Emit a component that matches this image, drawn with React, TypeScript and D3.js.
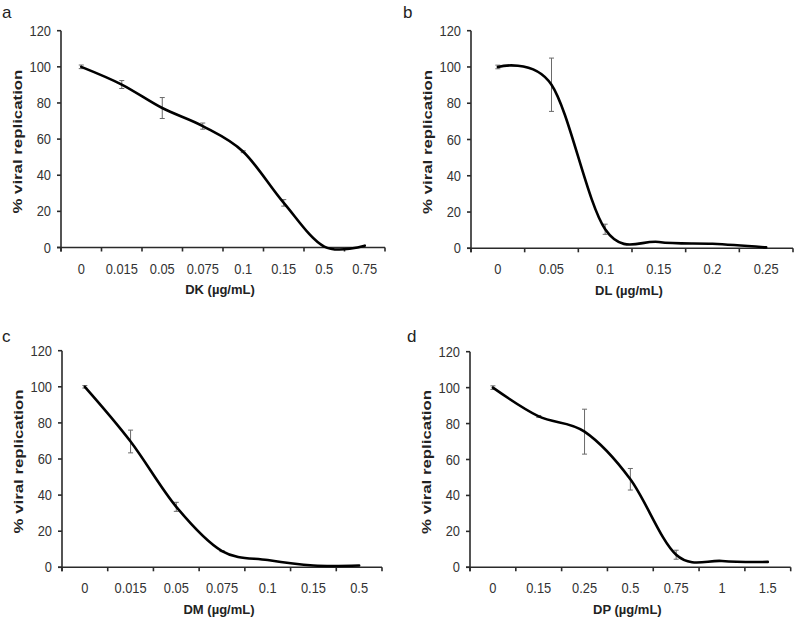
import React from "react";
import * as d3 from "d3";

const catsA = ["0", "0.015", "0.05", "0.075", "0.1", "0.15", "0.5", "0.75"];
const valsA = [100, 90.2, 77.2, 67.2, 53, 24.7, 0.5, 1];
const errA = [1, 2.2, 5.8, 1.7, 0.5, 1.8, 0, 0];

const catsB = ["0", "0.05", "0.1", "0.15", "0.2", "0.25"];
const valsB = [100, 90.2, 10.5, 3.5, 2.5, 0.5];
const errB = [1, 14.7, 2.8, 0, 0, 0];

const catsC = ["0", "0.015", "0.05", "0.075", "0.1", "0.15", "0.5"];
const valsC = [100, 69.7, 33.5, 9, 4, 1, 1];
const errC = [0.7, 6.3, 2.5, 0.3, 0, 0, 0];

const catsD = ["0", "0.15", "0.25", "0.5", "0.75", "1", "1.5"];
const valsD = [100, 84, 75.5, 49, 7, 3.5, 3];
const errD = [1, 0.5, 12.5, 6, 2.5, 0, 0];

const yTicks = [0, 20, 40, 60, 80, 100, 120];

const FONT = "'Liberation Sans', Arial, sans-serif";

type PanelProps = {
  letter: string;
  title: string;
  cats: string[];
  vals: number[];
  errs: number[];
  left: number;
  right: number;
  y0: number;
  y120: number;
  letterX: number;
  letterY: number;
};

function Label(props: { x: number; y: number; anchor: string; dy?: string; children: React.ReactNode }) {
  return (
    <text
      transform={`translate(${props.x},${props.y}) scale(0.92,1)`}
      dy={props.dy}
      textAnchor={props.anchor}
      fontSize={14}
      fontFamily={FONT}
      fill="#333"
    >
      {props.children}
    </text>
  );
}

function Panel(p: PanelProps) {
  const x = d3.scaleBand<string>().domain(p.cats).range([p.left, p.right]).padding(0);
  const y = d3.scaleLinear().domain([0, 120]).range([p.y0, p.y120]);
  const bw = x.bandwidth();
  const cx = (c: string) => (x(c) as number) + bw / 2;
  const pts: [number, number][] = p.cats.map((c, i) => [cx(c), y(p.vals[i])]);
  const line = d3.line().curve(d3.curveCardinal.tension(0))(pts) || "";
  const boundaries = p.cats.map((c) => x(c) as number).concat([p.right]);
  const axisColor = "#2a2a2a";
  return (
    <g>
      <text x={p.letterX} y={p.letterY} fontSize={17} fontFamily={FONT} fill="#222">
        {p.letter}
      </text>
      {/* y axis */}
      <line x1={p.left} x2={p.left} y1={y(120)} y2={p.y0 + 4} stroke={axisColor} strokeWidth={1.6} />
      {yTicks.map((t) => (
        <g key={t}>
          <line x1={p.left - 4} x2={p.left} y1={y(t)} y2={y(t)} stroke={axisColor} strokeWidth={1.6} />
          <Label x={p.left - 10} y={y(t)} anchor="end" dy="0.36em">
            {t}
          </Label>
        </g>
      ))}
      {/* x axis */}
      <line x1={p.left - 4} x2={p.right} y1={p.y0} y2={p.y0} stroke={axisColor} strokeWidth={1.6} />
      {boundaries.map((b, i) => (
        <line key={i} x1={b} x2={b} y1={p.y0} y2={p.y0 + 4} stroke={axisColor} strokeWidth={1.6} />
      ))}
      {p.cats.map((c) => (
        <Label key={c} x={cx(c)} y={p.y0 + 26} anchor="middle">
          {c}
        </Label>
      ))}
      <text
        x={(p.left + p.right) / 2 - 3}
        y={p.y0 + 46.5}
        textAnchor="middle"
        fontSize={13}
        fontWeight="bold"
        fontFamily={FONT}
        fill="#222"
      >
        {p.title}
      </text>
      <text
        transform={`translate(${p.left - 43},${(p.y0 + p.y120) / 2 + 2.5}) rotate(-90)`}
        textAnchor="middle"
        dy="0.35em"
        fontSize={12.5}
        fontWeight="bold"
        fontFamily={FONT}
        fill="#222"
        textLength={144}
        lengthAdjust="spacingAndGlyphs"
      >
        % viral replication
      </text>
      {/* error bars */}
      {p.cats.map((c, i) =>
        p.errs[i] > 0 ? (
          <g key={"e" + c} stroke="#6a6a6a" strokeWidth={1}>
            <line x1={cx(c)} x2={cx(c)} y1={y(p.vals[i] - p.errs[i])} y2={y(p.vals[i] + p.errs[i])} />
            <line x1={cx(c) - 2.5} x2={cx(c) + 2.5} y1={y(p.vals[i] - p.errs[i])} y2={y(p.vals[i] - p.errs[i])} />
            <line x1={cx(c) - 2.5} x2={cx(c) + 2.5} y1={y(p.vals[i] + p.errs[i])} y2={y(p.vals[i] + p.errs[i])} />
          </g>
        ) : null
      )}
      <path d={line} fill="none" stroke="#000" strokeWidth={2.6} strokeLinecap="round" />
    </g>
  );
}

export default function App() {
  return (
    <svg
      width={796}
      height={625}
      style={{ position: "absolute", left: 0, top: 0, background: "#fff" }}
    >
      <rect width={796} height={625} fill="#fff" />
      <Panel letter="a" title="DK (µg/mL)" cats={catsA} vals={valsA} errs={errA}
        left={61} right={385} y0={247.5} y120={30.7} letterX={2} letterY={18} />
      <Panel letter="b" title="DL (µg/mL)" cats={catsB} vals={valsB} errs={errB}
        left={471} right={793} y0={248.3} y120={30.7} letterX={403} letterY={18} />
      <Panel letter="c" title="DM (µg/mL)" cats={catsC} vals={valsC} errs={errC}
        left={62} right={382} y0={567.3} y120={350.7} letterX={2} letterY={342} />
      <Panel letter="d" title="DP (µg/mL)" cats={catsD} vals={valsD} errs={errD}
        left={470} right={790.7} y0={567.3} y120={351.7} letterX={407} letterY={342} />
    </svg>
  );
}
